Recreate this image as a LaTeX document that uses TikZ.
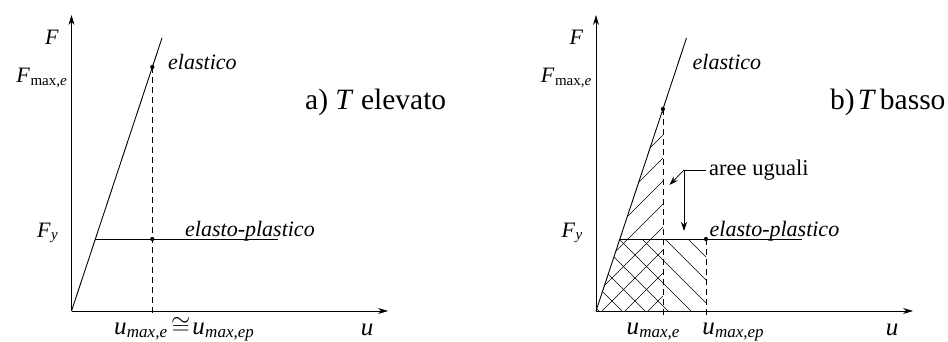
\documentclass[tikz,border=0pt]{standalone}
\usepackage{fontspec}
\setmainfont{Liberation Serif}
\usetikzlibrary{arrows.meta}
\newcommand{\Fsub}[1]{\textit{F}\kern0.5pt\raisebox{-0.25ex}{\fontsize{15}{15}\selectfont #1}}
\newcommand{\usub}[1]{\textit{u}\kern0.3pt\raisebox{-0.3ex}{\fontsize{17}{17}\selectfont\itshape #1}}
\begin{document}
\begin{tikzpicture}[x=1pt,y=-1pt,
  ax/.style={line width=0.8pt,-{Stealth[length=10pt,width=6pt]}},
  ln/.style={line width=0.9pt},
  dsh/.style={line width=0.7pt,dash pattern=on 6pt off 4pt},
  hat/.style={line width=0.6pt},
  dotn/.style={circle,fill,inner sep=0pt,minimum size=4.2pt},
  ptr/.style={line width=0.7pt,-{Stealth[length=9pt,width=6pt]}},
  itl/.style={font=\fontsize{22}{22}\selectfont\itshape,inner sep=0pt},
  axl/.style={font=\fontsize{22}{22}\selectfont,inner sep=0pt},
  ul/.style={font=\fontsize{25}{25}\selectfont,inner sep=0pt},
  ttl/.style={font=\fontsize{29.5}{29.5}\selectfont,inner sep=0pt},
  ]
\useasboundingbox (0,0) rectangle (948,342);
% ---------------- left panel ----------------
\coordinate (O1) at (71.5,311);
\coordinate (Y1) at (71.5,15);
\coordinate (X1) at (388,311);
\coordinate (E1) at (162,38);
\coordinate (T1) at (152.3,317);
\coordinate (P1a) at (95.3,239);
\coordinate (P1b) at (278,239);
\node[dotn] (D1) at (152.3,67) {};
\node[dotn] (D2) at (152.3,239) {};
\draw[ax] (O1) -- (Y1);
\draw[ax] (O1) -- (X1);
\draw[ln] (O1) -- (E1);
\draw[ln] (P1a) -- (P1b);
\draw[dsh] (D1.center) -- (T1);
\node[axl,anchor=base] (F1) at (52,45) {\textit{F}};
\node[axl,anchor=base east] (Fm1) at (67,83) {\Fsub{max,\textit{e}}};
\node[axl,anchor=base east] (Fy1) at (58,237) {\Fsub{\textit{y}}};
\node[itl,anchor=base west] (el1) at (168,70) {elastico};
\node[itl,anchor=base west] (ep1) at (185,236) {elasto-plastico};
\node[ul,anchor=base] (um1) at (184,334) {\usub{max,e}\kern4pt$\cong$\kern2pt\usub{max,ep}};
\node[ul,anchor=base] (u1) at (367,335) {\textit{u}};
\node[ttl,anchor=base west] (ta) at (305,110) {a) \textit{T} elevato};
% ---------------- right panel ----------------
\coordinate (O2) at (596,311);
\coordinate (Y2) at (596,15);
\coordinate (X2) at (913,311);
\coordinate (E2) at (686.5,38);
\coordinate (T3) at (662.9,317);
\coordinate (T4) at (706,317);
\coordinate (P2a) at (619.8,239);
\coordinate (P2b) at (802,239);
\node[dotn] (D3) at (662.9,109) {};
\node[dotn] (D4) at (706,239) {};
% hatching
\begin{scope}
  \clip (596,311) -- (662.9,109) -- (662.9,311) -- cycle;
  \foreach \c in {775,798,...,980}{
    \draw[hat] (\c-330,330) -- (\c-90,90);
  }
\end{scope}
\begin{scope}
  \clip (596,311) -- (619.8,239) -- (706,239) -- (706,311) -- cycle;
  \foreach \c in {265,288,...,470}{
    \draw[hat] (\c+200,200) -- (\c+330,330);
  }
\end{scope}
\draw[ax] (O2) -- (Y2);
\draw[ax] (O2) -- (X2);
\draw[ln] (O2) -- (E2);
\draw[ln] (P2a) -- (P2b);
\draw[dsh] (D3.center) -- (T3);
\draw[dsh] (D4.center) -- (T4);
\node[axl,anchor=base] (F2) at (576.5,45) {\textit{F}};
\node[axl,anchor=base east] (Fm2) at (591.5,83) {\Fsub{max,\textit{e}}};
\node[axl,anchor=base east] (Fy2) at (582.5,237) {\Fsub{\textit{y}}};
\node[itl,anchor=base west] (el2) at (692.5,70) {elastico};
\node[itl,anchor=base west] (ep2) at (709.5,236) {elasto-plastico};
\node[ul,anchor=base] (um2) at (653,334) {\usub{max,e}};
\node[ul,anchor=base] (um3) at (733,334) {\usub{max,ep}};
\node[ul,anchor=base] (u2) at (892,335) {\textit{u}};
\node[ttl,anchor=base west] (tb) at (830,110) {b)\kern3pt\textit{T}\kern4pt basso};
% leader
\node[font=\fontsize{22.5}{22.5}\selectfont,inner sep=0pt,anchor=west] (au) at (709,170) {aree uguali};
\coordinate (K) at (684,170);
\coordinate (A1) at (669.5,185);
\coordinate (A2) at (684,231);
\draw[line width=0.7pt] (au.west) ++(-3,0) -- (K);
\draw[ptr] (K) -- (A1);
\draw[ptr] (K) -- (A2);
\end{tikzpicture}
\end{document}
